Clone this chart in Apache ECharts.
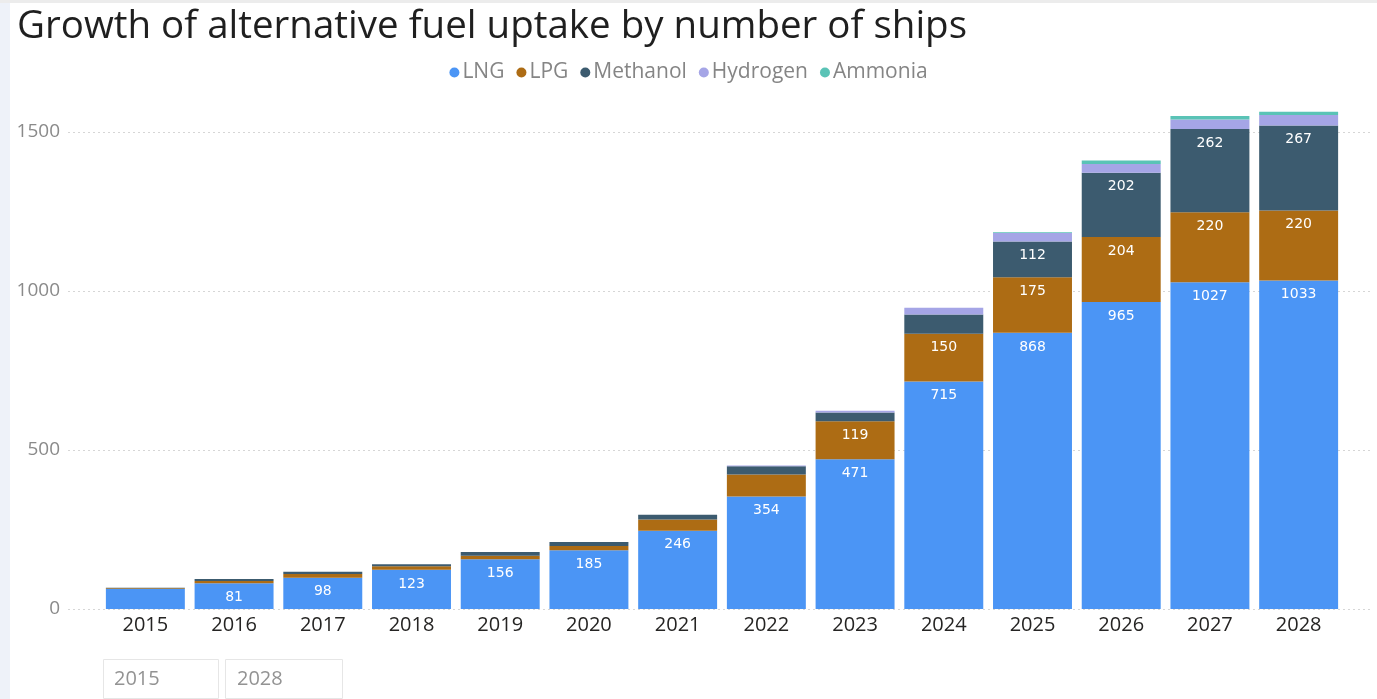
<!DOCTYPE html>
<html>
<head>
<meta charset="utf-8">
<script src="https://cdn.jsdelivr.net/npm/echarts@6/dist/echarts.min.js"></script>
<style>
  html, body { margin: 0; padding: 0; background: #ffffff; }
  #chart { width: 1377px; height: 699px; }
</style>
</head>
<body>
<div id="chart"></div>
<script>
// Ships using each alternative fuel, by year
const years = ['2015', '2016', '2017', '2018', '2019', '2020', '2021', '2022', '2023', '2024', '2025', '2026', '2027', '2028'];
const lng      = [63, 81, 98, 123, 156, 185, 246, 354, 471, 715, 868, 965, 1027, 1033];
const lpg      = [2, 7, 12, 11, 11, 13, 35, 69, 119, 150, 175, 204, 220, 220];
const methanol = [2, 6, 7, 7, 12, 13, 15, 26, 28, 61, 112, 202, 262, 267];
const hydrogen = [0, 0, 0, 0, 0, 0, 0, 2, 5, 21, 27, 28, 30, 33];
const ammonia  = [0, 0, 0, 0, 0, 0, 0, 0, 0, 0, 2, 11, 11, 10];
const yTicks = [0, 500, 1000, 1500];
const rangeLabels = ['2015', '2028'];

const fuelNames = ['LNG', 'LPG', 'Methanol', 'Hydrogen', 'Ammonia'];
const fuelData = [lng, lpg, methanol, hydrogen, ammonia];
const fuelColors = ['#4b95f5', '#ad6c14', '#3c5b6f', '#a5a5e6', '#5ac3b6'];

const Y_MAX = 1600;
const Y_STEP = 500;
// segments shorter than this are left unlabelled
const LABEL_MIN = 75;

const chart = echarts.init(document.getElementById('chart'), null, { renderer: 'canvas' });

const series = fuelNames.map((name, i) => ({
  name: name,
  type: 'bar',
  stack: 'fuel',
  xAxisIndex: 0,
  yAxisIndex: 0,
  barCategoryGap: '11%',
  data: fuelData[i],
  itemStyle: { color: fuelColors[i] },
  emphasis: { disabled: true },
  label: {
    show: true,
    position: 'insideTop',
    distance: 7,
    color: '#ffffff',
    fontFamily: 'DejaVu Sans',
    fontSize: 14,
    formatter: p => (p.value >= LABEL_MIN ? String(p.value) : '')
  }
}));

// wide background axis carrying the dotted gridlines and the value labels
series.push({
  type: 'bar',
  xAxisIndex: 1,
  yAxisIndex: 1,
  data: [],
  silent: true
});

const option = {
  backgroundColor: '#ffffff',
  animation: false,
  title: {
    text: 'Growth of alternative fuel uptake by number of ships',
    left: 12,
    top: 3,
    textStyle: {
      fontFamily: 'Open Sans',
      fontWeight: 'normal',
      fontSize: 38.5,
      color: '#1f1f1f'
    }
  },
  legend: {
    data: fuelNames,
    left: 'center',
    top: 57,
    icon: 'circle',
    itemWidth: 10,
    itemHeight: 10,
    itemGap: 12,
    textStyle: {
      fontFamily: 'Open Sans',
      fontSize: 21,
      color: '#858585',
      padding: [0, 0, 0, -2]
    }
  },
  grid: [
    { left: 101, right: 34, top: 100, bottom: 90, containLabel: false },
    { left: 68, right: 6, top: 132, bottom: 90, containLabel: false }
  ],
  xAxis: [
    {
      type: 'category',
      gridIndex: 0,
      data: years,
      axisLine: { show: false },
      axisTick: { show: false },
      axisLabel: {
        margin: 6,
        fontFamily: 'Open Sans',
        fontSize: 20,
        color: '#252423'
      }
    },
    {
      type: 'category',
      gridIndex: 1,
      data: years,
      show: false
    }
  ],
  yAxis: [
    {
      type: 'value',
      gridIndex: 0,
      min: 0,
      max: Y_MAX,
      interval: Y_STEP,
      show: false
    },
    {
      type: 'value',
      gridIndex: 1,
      min: yTicks[0],
      max: yTicks[yTicks.length - 1],
      interval: Y_STEP,
      axisLine: { show: false },
      axisTick: { show: false },
      splitLine: {
        show: true,
        lineStyle: { color: '#d6d6d6', type: [2, 3], width: 1 }
      },
      axisLabel: {
        margin: 8,
        fontFamily: 'Open Sans',
        fontSize: 19,
        color: '#8a8a8a',
        formatter: v => String(v)
      }
    }
  ],
  graphic: [
    // light frame strips along the top and left edges
    { type: 'rect', left: 0, top: 0, shape: { width: 10, height: 699 }, style: { fill: '#eef2f9' }, z: -1 },
    { type: 'rect', left: 0, top: 0, shape: { width: 1377, height: 3 }, style: { fill: '#ececec' }, z: -1 },
    // year range boxes
    { type: 'rect', left: 103, top: 659, shape: { width: 115, height: 39 }, style: { fill: '#ffffff', stroke: '#e6e6e6', lineWidth: 1 } },
    { type: 'rect', left: 225, top: 659, shape: { width: 117, height: 39 }, style: { fill: '#ffffff', stroke: '#e6e6e6', lineWidth: 1 } },
    { type: 'text', left: 114, top: 669, style: { text: rangeLabels[0], fontFamily: 'Open Sans', fontSize: 20, fill: '#939393' } },
    { type: 'text', left: 237, top: 669, style: { text: rangeLabels[1], fontFamily: 'Open Sans', fontSize: 20, fill: '#939393' } }
  ],
  series: series
};

chart.setOption(option);
</script>
</body>
</html>
